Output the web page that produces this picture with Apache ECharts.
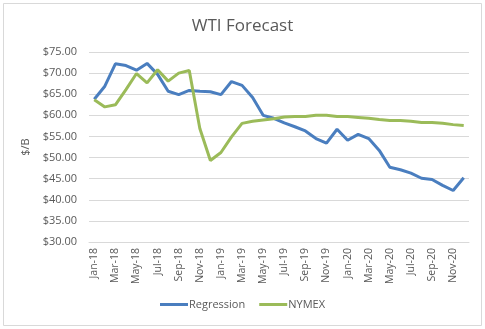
<!DOCTYPE html>
<html>
<head>
<meta charset="utf-8">
<script src="https://cdn.jsdelivr.net/npm/echarts@6/dist/echarts.min.js"></script>
<style>
html,body{margin:0;padding:0;background:#fff;}
#chart{width:485px;height:329px;}
</style>
</head>
<body>
<div id="chart"></div>
<script>
// Monthly categories Jan-18 .. Dec-20
const months = ['Jan','Feb','Mar','Apr','May','Jun','Jul','Aug','Sep','Oct','Nov','Dec'];
const years = ['18','19','20'];
const categories = [];
years.forEach(y => months.forEach(m => categories.push(m + '-' + y)));

// WTI price forecasts, $/B
const regression = [
  63.8, 66.9, 72.2, 71.8, 70.7, 72.3, 69.7, 65.7, 64.9, 65.9, 65.7, 65.6,
  64.9, 68.0, 67.1, 64.2, 60.0, 59.3, 58.2, 57.3, 56.3, 54.5, 53.4, 56.7,
  54.1, 55.5, 54.5, 51.7, 47.7, 47.1, 46.3, 45.1, 44.8, 43.4, 42.2, 45.2
];
const nymex = [
  63.7, 62.0, 62.5, 66.1, 69.9, 67.7, 70.8, 68.1, 70.0, 70.6, 56.9, 49.3,
  51.2, 54.9, 58.1, 58.6, 58.9, 59.2, 59.6, 59.7, 59.7, 60.0, 60.0, 59.7,
  59.7, 59.5, 59.3, 59.0, 58.8, 58.8, 58.6, 58.3, 58.3, 58.1, 57.8, 57.6
];

const font = '"Open Sans", "Liberation Sans", sans-serif';
const textColor = '#595959';

const chart = echarts.init(document.getElementById('chart'), null, {renderer: 'canvas'});
chart.setOption({
  animation: false,
  backgroundColor: '#fff',
  textStyle: {fontFamily: font},
  title: {
    text: 'WTI Forecast',
    left: 'center',
    top: 13,
    textStyle: {fontFamily: font, fontSize: 17, fontWeight: 'normal', color: textColor}
  },
  graphic: [{
    type: 'rect',
    shape: {x: 3.5, y: 3.5, width: 478, height: 322},
    style: {fill: 'none', stroke: '#d9d9d9', lineWidth: 1},
    silent: true
  }],
  legend: {
    bottom: 14,
    left: 'center',
    itemWidth: 28,
    itemHeight: 3,
    itemGap: 14,
    icon: 'rect',
    textStyle: {fontFamily: font, fontSize: 11, color: textColor, padding: [0, 0, 0, -4]},
    data: ['Regression', 'NYMEX']
  },
  grid: {left: 89, right: 16, top: 52, bottom: 87},
  xAxis: {
    type: 'category',
    data: categories,
    boundaryGap: true,
    axisLine: {show: true, lineStyle: {color: '#d9d9d9'}},
    axisTick: {show: false},
    axisLabel: {
      interval: 1,
      rotate: 90,
      margin: 6,
      fontSize: 10.5,
      fontFamily: font,
      color: textColor
    }
  },
  yAxis: {
    type: 'value',
    min: 30,
    max: 75,
    interval: 5,
    name: '$/B',
    nameLocation: 'middle',
    nameGap: 54,
    nameRotate: 90,
    nameTextStyle: {fontFamily: font, fontSize: 11, color: textColor},
    axisLine: {show: false},
    axisTick: {show: false},
    splitLine: {lineStyle: {color: '#d9d9d9', width: 1}},
    axisLabel: {
      margin: 12,
      fontSize: 11,
      fontFamily: font,
      color: textColor,
      formatter: v => '$' + v.toFixed(2)
    }
  },
  series: [
    {
      name: 'Regression',
      type: 'line',
      data: regression,
      showSymbol: false,
      symbol: 'none',
      lineStyle: {width: 3, color: '#4a7ebf'},
      itemStyle: {color: '#4a7ebf'}
    },
    {
      name: 'NYMEX',
      type: 'line',
      data: nymex,
      showSymbol: false,
      symbol: 'none',
      lineStyle: {width: 3, color: '#9bbb59'},
      itemStyle: {color: '#9bbb59'}
    }
  ]
});
</script>
</body>
</html>
